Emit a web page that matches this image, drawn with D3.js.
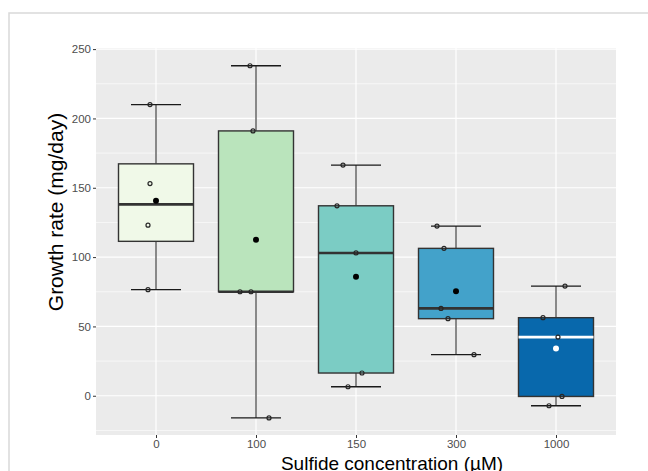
<!DOCTYPE html>
<html lang="en">
<head>
<meta charset="UTF-8">
<title>Growth rate vs sulfide</title>
<script src="https://d3js.org/d3.v7.min.js"></script>
<style>
  body, html { margin: 0; padding: 0; background: #ffffff; }
  svg { display: block; font-family: "Liberation Sans", Arial, sans-serif; }
</style>
</head>
<body>
<div id="chart"></div>
<script>
// sulfide concentrations (uM)
var categories = ["0", "100", "150", "300", "1000"];
// individual growth rates (mg/day) per concentration
var growth0 = [210, 153, 123, 76.5];
var growth100 = [238, 191, 75, 75, -16];
var growth150 = [166.4, 137, 103, 16.4, 6.5];
var growth300 = [122.4, 106.3, 63, 55.6, 29.6];
var growth1000 = [79.1, 56.3, 42.3, -0.5, -7.2];
// horizontal jitter of the points, in category widths
var jitter0 = [-0.06, -0.06, -0.08, -0.08];
var jitter100 = [-0.06, -0.03, -0.16, -0.05, 0.13];
var jitter150 = [-0.13, -0.19, 0.0, 0.06, -0.08];
var jitter300 = [-0.19, -0.12, -0.15, -0.08, 0.18];
var jitter1000 = [0.09, -0.13, 0.02, 0.06, -0.07];
var yTicks = [0, 50, 100, 150, 200, 250];
var yMinorTicks = [-25, 25, 75, 125, 175, 225];
var fills = ["#F0F9E8", "#BAE4BC", "#7BCCC4", "#43A2CA", "#0868AC"];

var allGrowth = [growth0, growth100, growth150, growth300, growth1000];
var allJitter = [jitter0, jitter100, jitter150, jitter300, jitter1000];

var W = 648, H = 471;
var panel = {left: 96, right: 616, top: 48, bottom: 435};

var svg = d3.select("#chart").append("svg")
    .attr("width", W)
    .attr("height", H);

// outer frame of the original figure (cropped)
svg.append("path")
    .attr("d", "M9," + H + "V13H" + W)
    .attr("fill", "none")
    .attr("stroke", "#d9d9d9")
    .attr("stroke-width", 1.5);

var x = d3.scalePoint()
    .domain(categories)
    .range([panel.left, panel.right])
    .padding(0.6);
var step = x.step();

var y = d3.scaleLinear()
    .domain([-28.3, 250.8])
    .range([panel.bottom, panel.top]);

// panel background
svg.append("rect")
    .attr("x", panel.left)
    .attr("y", panel.top)
    .attr("width", panel.right - panel.left)
    .attr("height", panel.bottom - panel.top)
    .attr("fill", "#EBEBEB");

// grid lines
svg.selectAll(".minor").data(yMinorTicks.filter(function(d) { return y(d) > panel.top && y(d) < panel.bottom; }))
  .enter().append("line")
    .attr("x1", panel.left).attr("x2", panel.right)
    .attr("y1", function(d) { return y(d); }).attr("y2", function(d) { return y(d); })
    .attr("stroke", "#ffffff").attr("stroke-width", 0.6);
svg.selectAll(".major").data(yTicks)
  .enter().append("line")
    .attr("x1", panel.left).attr("x2", panel.right)
    .attr("y1", function(d) { return y(d); }).attr("y2", function(d) { return y(d); })
    .attr("stroke", "#ffffff").attr("stroke-width", 1.2);
svg.selectAll(".vgrid").data(categories)
  .enter().append("line")
    .attr("x1", function(d) { return x(d); }).attr("x2", function(d) { return x(d); })
    .attr("y1", panel.top).attr("y2", panel.bottom)
    .attr("stroke", "#ffffff").attr("stroke-width", 1.2);

// axes
var yAxis = svg.append("g")
    .attr("transform", "translate(" + panel.left + ",0)")
    .call(d3.axisLeft(y).tickValues(yTicks).tickSize(3).tickPadding(2));
var xAxis = svg.append("g")
    .attr("transform", "translate(0," + panel.bottom + ")")
    .call(d3.axisBottom(x).tickSize(3).tickPadding(1.5));
[yAxis, xAxis].forEach(function(a) {
    a.select(".domain").remove();
    a.selectAll(".tick line").attr("stroke", "#333333").attr("stroke-width", 1);
    a.selectAll(".tick text")
        .attr("fill", "#4D4D4D")
        .style("font-size", "11.5px")
        .style("font-family", "Liberation Sans, Arial, sans-serif");
});

// boxes
categories.forEach(function(cat, i) {
    var vals = allGrowth[i].slice().sort(d3.ascending);
    var q1 = d3.quantile(vals, 0.25),
        med = d3.quantile(vals, 0.5),
        q3 = d3.quantile(vals, 0.75),
        iqr = q3 - q1;
    var lo = d3.min(vals.filter(function(v) { return v >= q1 - 1.5 * iqr; }));
    var hi = d3.max(vals.filter(function(v) { return v <= q3 + 1.5 * iqr; }));
    var mean = d3.mean(vals);
    var cx = x(cat);
    var g = svg.append("g");
    var light = i == 4 ? "#ffffff" : "#000000";

    // whiskers with caps
    g.append("line").attr("x1", cx).attr("x2", cx).attr("y1", y(q3)).attr("y2", y(hi))
        .attr("stroke", "#4D4D4D").attr("stroke-width", 1.3);
    g.append("line").attr("x1", cx).attr("x2", cx).attr("y1", y(q1)).attr("y2", y(lo))
        .attr("stroke", "#4D4D4D").attr("stroke-width", 1.3);
    [lo, hi].forEach(function(v) {
        g.append("line")
            .attr("x1", cx - step * 0.25).attr("x2", cx + step * 0.25)
            .attr("y1", y(v)).attr("y2", y(v))
            .attr("stroke", "#1a1a1a").attr("stroke-width", 1.3);
    });

    g.append("rect")
        .attr("x", cx - step * 0.375)
        .attr("y", y(q3))
        .attr("width", step * 0.75)
        .attr("height", y(q1) - y(q3))
        .attr("fill", fills[i])
        .attr("stroke", "#333333")
        .attr("stroke-width", 1.4);
    g.append("line")
        .attr("x1", cx - step * 0.375).attr("x2", cx + step * 0.375)
        .attr("y1", y(med)).attr("y2", y(med))
        .attr("stroke", i == 4 ? "#ffffff" : "#333333")
        .attr("stroke-width", 2.6);

    // jittered points
    allGrowth[i].forEach(function(v, j) {
        g.append("circle")
            .attr("cx", cx + allJitter[i][j] * step)
            .attr("cy", y(v))
            .attr("r", 2)
            .attr("fill", "none")
            .attr("stroke", "#262626")
            .attr("stroke-width", 1.2);
    });

    // mean
    g.append("circle")
        .attr("cx", cx)
        .attr("cy", y(mean))
        .attr("r", 3)
        .attr("fill", light);
});

// axis titles
svg.append("text")
    .attr("transform", "translate(63," + 212 + ") rotate(-90)")
    .attr("text-anchor", "middle")
    .style("font-size", "21px")
    .attr("fill", "#000000")
    .text("Growth rate (mg/day)");

svg.append("text")
    .attr("x", 392)
    .attr("y", 469.5)
    .attr("text-anchor", "middle")
    .style("font-size", "19px")
    .attr("fill", "#000000")
    .text("Sulfide concentration (\u00B5M)");
</script>
</body>
</html>
